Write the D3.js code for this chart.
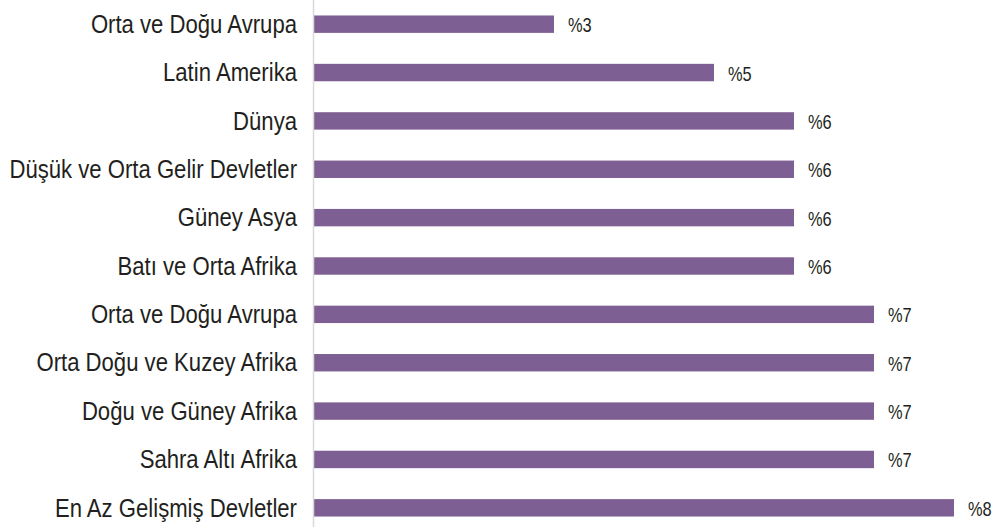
<!DOCTYPE html>
<html>
<head>
<meta charset="utf-8">
<script src="https://cdn.jsdelivr.net/npm/d3@7"></script>
<style>
  body { margin: 0; background: #fff; }
  text { font-family: "Liberation Sans", Arial, sans-serif; }
</style>
</head>
<body>
<script>
var width = 997,
    height = 527;

// regions, top to bottom
var regions = [
  "Orta ve Doğu Avrupa", "Latin Amerika", "Dünya", "Düşük ve Orta Gelir Devletler",
  "Güney Asya", "Batı ve Orta Afrika", "Orta ve Doğu Avrupa",
  "Orta Doğu ve Kuzey Afrika", "Doğu ve Güney Afrika", "Sahra Altı Afrika",
  "En Az Gelişmiş Devletler"
];
var values = [3, 5, 6, 6, 6, 6, 7, 7, 7, 7, 8];

var svg = d3.select("body").append("svg")
    .attr("width", width)
    .attr("height", height);

var x = d3.scaleLinear().domain([0, 8]).range([314, 954]);

var y = d3.scaleBand()
    .domain(d3.range(regions.length))
    .range([0, 532])
    .paddingInner(0.64)
    .paddingOuter(0.32);

// bars
svg.selectAll(".bar")
  .data(values)
  .enter().append("rect")
  .attr("class", "bar")
  .attr("x", x(0))
  .attr("y", function(d, i) { return y(i); })
  .attr("width", function(d) { return x(d) - x(0); })
  .attr("height", y.bandwidth())
  .attr("fill", "#7e5f93");

// axis line
svg.append("line")
  .attr("x1", x(0) - 0.5).attr("x2", x(0) - 0.5)
  .attr("y1", 0).attr("y2", height)
  .attr("stroke", "#d9d9d9")
  .attr("stroke-width", 1.5);

// category labels (condensed look via horizontal squeeze)
svg.selectAll(".lbl")
  .data(regions)
  .enter().append("text")
  .attr("class", "lbl")
  .attr("transform", function(d, i) {
    return "translate(297," + (y(i) + y.bandwidth() / 2) + ") scale(0.885,1)";
  })
  .attr("dy", "0.35em")
  .style("text-anchor", "end")
  .style("font-size", "25px")
  .attr("fill", "#231f20")
  .text(function(d) { return d; });

// value labels
svg.selectAll(".val")
  .data(values)
  .enter().append("text")
  .attr("class", "val")
  .attr("transform", function(d, i) {
    return "translate(" + (x(d) + 14) + "," + (y(i) + y.bandwidth() / 2 + 1) + ") scale(0.82,1)";
  })
  .attr("dy", "0.35em")
  .style("font-size", "20px")
  .attr("fill", "#231f20")
  .text(function(d) { return "%" + d; });
</script>
</body>
</html>
